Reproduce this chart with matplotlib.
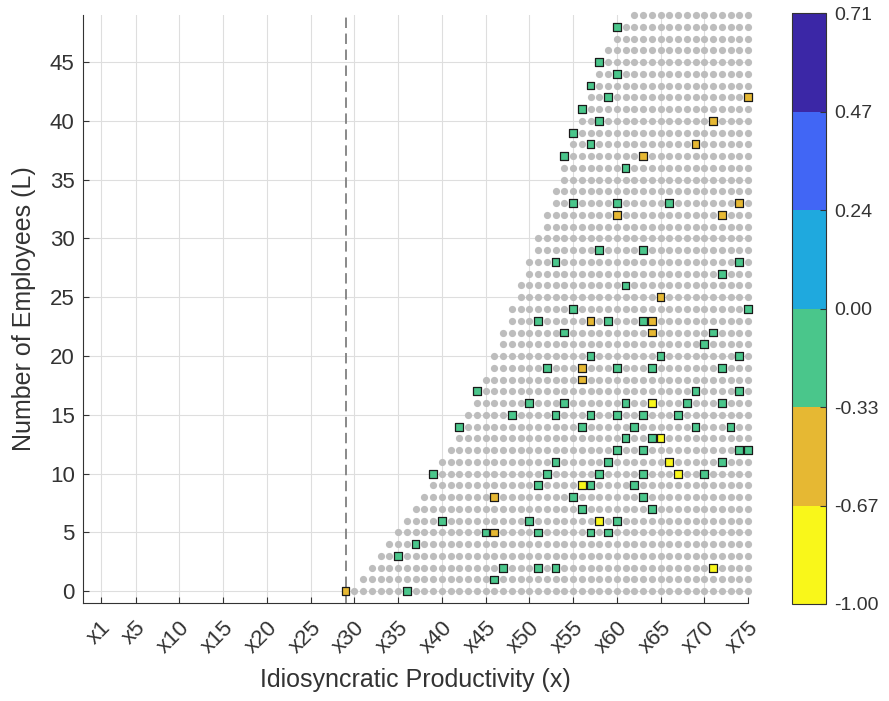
import numpy as np
import matplotlib.pyplot as plt
from matplotlib.colors import ListedColormap, BoundaryNorm
from matplotlib.cm import ScalarMappable

plt.rcParams['font.family'] = ['Liberation Sans', 'DejaVu Sans']
plt.rcParams['lines.scale_dashes'] = False

# first productivity index with an active firm, for L = 0..49
x_start = [30, 31, 32, 33, 34, 35, 36, 37, 38, 39,
           39, 40, 41, 42, 42, 43, 44, 44, 45, 46,
           46, 47, 47, 48, 48, 49, 49, 50, 50, 51,
           51, 52, 52, 53, 53, 54, 54, 54, 55, 55,
           56, 56, 57, 57, 58, 58, 59, 60, 60, 62]
x_end = 75
x_cut = 29

# marked states: productivity index, employees, value
sq_x = [60, 58, 60, 57, 59, 75, 56, 58, 71, 55, 57, 69, 54, 63, 61,
        55, 60, 66, 74, 60, 72, 58, 63, 53, 74, 72, 61, 65, 55, 75,
        51, 57, 59, 63, 64, 54, 64, 71, 70, 57, 65, 74,
        52, 56, 60, 64, 72, 56, 44, 69, 74,
        50, 54, 61, 64, 68, 72, 48, 53, 57, 60, 63, 67,
        42, 56, 62, 69, 73, 61, 64, 65, 60, 63, 74, 75,
        53, 59, 66, 72, 39, 52, 58, 63, 67, 70,
        51, 56, 57, 62, 46, 55, 63, 56, 64,
        40, 50, 58, 60, 45, 46, 51, 57, 59, 37, 35,
        47, 51, 53, 71, 46, 29, 36]
sq_y = [48, 45, 44, 43, 42, 42, 41, 40, 40, 39, 38, 38, 37, 37, 36,
        33, 33, 33, 33, 32, 32, 29, 29, 28, 28, 27, 26, 25, 24, 24,
        23, 23, 23, 23, 23, 22, 22, 22, 21, 20, 20, 20,
        19, 19, 19, 19, 19, 18, 17, 17, 17,
        16, 16, 16, 16, 16, 16, 15, 15, 15, 15, 15, 15,
        14, 14, 14, 14, 14, 13, 13, 13, 12, 12, 12, 12,
        11, 11, 11, 11, 10, 10, 10, 10, 10, 10,
        9, 9, 9, 9, 8, 8, 8, 7, 7,
        6, 6, 6, 6, 5, 5, 5, 5, 5, 4, 3,
        2, 2, 2, 2, 1, 0, 0]
sq_v = [-0.17, -0.17, -0.17, -0.17, -0.17, -0.50, -0.17, -0.17, -0.50, -0.17, -0.17, -0.50, -0.17, -0.50, -0.17,
        -0.17, -0.17, -0.17, -0.50, -0.50, -0.50, -0.17, -0.17, -0.17, -0.17, -0.17, -0.17, -0.50, -0.17, -0.17,
        -0.17, -0.50, -0.17, -0.17, -0.50, -0.17, -0.50, -0.17, -0.17, -0.17, -0.17, -0.17,
        -0.17, -0.50, -0.17, -0.17, -0.17, -0.50, -0.17, -0.17, -0.17,
        -0.17, -0.17, -0.17, -0.83, -0.17, -0.17, -0.17, -0.17, -0.17, -0.17, -0.17, -0.17,
        -0.17, -0.17, -0.17, -0.17, -0.17, -0.17, -0.17, -0.83, -0.17, -0.17, -0.17, -0.17,
        -0.17, -0.17, -0.83, -0.17, -0.17, -0.17, -0.17, -0.17, -0.83, -0.17,
        -0.17, -0.83, -0.17, -0.17, -0.50, -0.17, -0.17, -0.17, -0.17,
        -0.17, -0.17, -0.83, -0.17, -0.17, -0.50, -0.17, -0.17, -0.17, -0.17, -0.17,
        -0.17, -0.17, -0.17, -0.83, -0.17, -0.50, -0.17]

bounds = [-1.00, -0.67, -0.33, 0.00, 0.24, 0.47, 0.71]
colors = ['#F9F71A', '#E6B833', '#4AC68B', '#1FA9DE', '#4166F5', '#3B27A6']
xticks = [1, 5, 10, 15, 20, 25, 30, 35, 40, 45, 50, 55, 60, 65, 70, 75]
xticklabels = ['x%d' % t for t in xticks]

cmap = ListedColormap(colors)
norm = BoundaryNorm(bounds, cmap.N)

dot_x, dot_y = [], []
for L, x0 in enumerate(x_start):
    for x in range(x0, x_end + 1):
        dot_x.append(x)
        dot_y.append(L)

fig = plt.figure(figsize=(8.89, 7.01), dpi=100)
ax = fig.add_axes([0.0934, 0.1398, 0.7480, 0.8388])

txt = '#333333'
ax.scatter(dot_x, dot_y, s=27, color='#BDBDBD', linewidths=0, zorder=2, clip_on=False)
ax.axvline(x_cut, color='#808080', lw=1.3, dashes=(7.5, 4), zorder=3)
ax.scatter(sq_x, sq_y, c=sq_v, cmap=cmap, norm=norm, marker='s', s=32,
           edgecolors='#1a1a1a', linewidths=0.9, zorder=4, clip_on=False)

ax.set_xlim(-1, 75)
ax.set_ylim(-1, 49)
ax.set_xticks(xticks)
ax.set_xticklabels(xticklabels, rotation=45, ha='right', va='top',
                   rotation_mode='anchor', fontsize=16, color=txt)
ax.set_yticks(range(0, 50, 5))
ax.tick_params(axis='y', labelsize=16, labelcolor=txt)
ax.tick_params(direction='in', length=4, width=0.8, color=txt, pad=6)
ax.tick_params(axis='x', pad=10)
ax.grid(True, color='#dedede', lw=0.8)
ax.set_axisbelow(True)
for s in ['top', 'right']:
    ax.spines[s].set_visible(False)
for s in ['left', 'bottom']:
    ax.spines[s].set_color(txt)
    ax.spines[s].set_linewidth(0.8)

ax.set_xlabel('Idiosyncratic Productivity (x)', fontsize=18, color=txt, labelpad=8)
ax.set_ylabel('Number of Employees (L)', fontsize=18, color=txt, labelpad=10)

cax = fig.add_axes([0.891, 0.1384, 0.0382, 0.8426])
cb = fig.colorbar(ScalarMappable(norm=norm, cmap=cmap), cax=cax, ticks=bounds)
cb.ax.set_yticklabels(['%.2f' % b for b in bounds])
cb.ax.tick_params(direction='in', length=4, width=0.8, color=txt,
                  labelsize=14, labelcolor=txt, pad=6)
cb.outline.set_edgecolor(txt)
cb.outline.set_linewidth(0.8)

fig.savefig('out.png', dpi=100)
